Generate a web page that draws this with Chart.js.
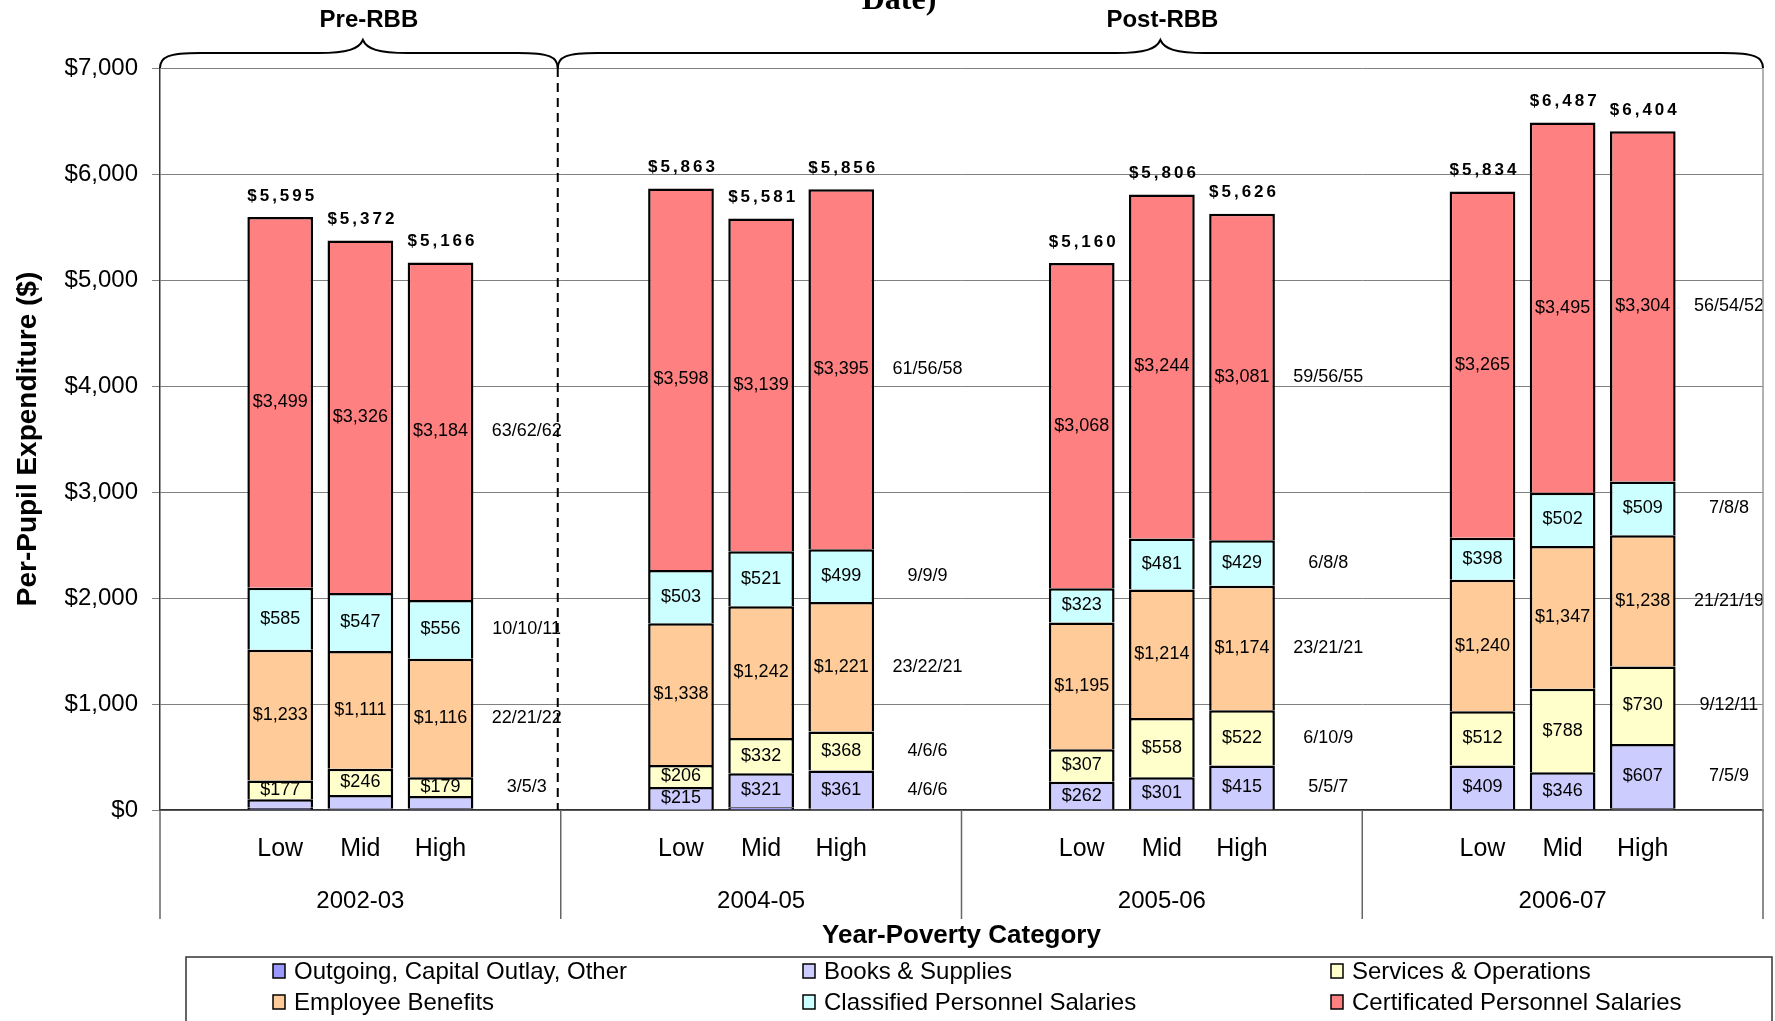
<!DOCTYPE html>
<html>
<head>
<meta charset="utf-8">
<script src="https://cdn.jsdelivr.net/npm/chart.js@4.4.0/dist/chart.umd.min.js"></script>
<style>
  html, body { margin: 0; padding: 0; background: #fff; }
</style>
</head>
<body>
<canvas id="chart" width="1775" height="1021"></canvas>
<script>
const years = ['2002-03', '2004-05', '2005-06', '2006-07'];
const levels = ['Low', 'Mid', 'High'];

// per-pupil $, one row per year: Low / Mid / High
const outgoing = [[21, 17, 16], [3, 26, 12], [5, 8, 5], [10, 9, 16]];
const books = [[80, 125, 115], [215, 321, 361], [262, 301, 415], [409, 346, 607]];
const services = [[177, 246, 179], [206, 332, 368], [307, 558, 522], [512, 788, 730]];
const benefits = [[1233, 1111, 1116], [1338, 1242, 1221], [1195, 1214, 1174], [1240, 1347, 1238]];
const classified = [[585, 547, 556], [503, 521, 499], [323, 481, 429], [398, 502, 509]];
const certificated = [[3499, 3326, 3184], [3598, 3139, 3395], [3068, 3244, 3081], [3265, 3495, 3304]];

// percent shares (Low/Mid/High) written right of each year
const pctCertificated = ['63/62/62', '61/56/58', '59/56/55', '56/54/52'];
const pctClassified = ['10/10/11', '9/9/9', '6/8/8', '7/8/8'];
const pctBenefits = ['22/21/22', '23/22/21', '23/21/21', '21/21/19'];
const pctServices = ['3/5/3', '4/6/6', '6/10/9', '9/12/11'];
const pctBooks = ['', '4/6/6', '5/5/7', '7/5/9'];

const FONT = '"Liberation Sans", Arial, sans-serif';

// each year gets 5 slots: blank, Low, Mid, High, blank (percent column)
const labels = [];
years.forEach(() => labels.push('', ...levels, ''));

function spread(rows) {
  const out = [];
  rows.forEach(r => out.push(null, ...r, null));
  return out;
}

function makeSet(label, rows, color, pct, showValues) {
  return {
    label: label,
    data: spread(rows),
    backgroundColor: color,
    borderColor: '#000',
    borderWidth: 2.5,
    barPercentage: 0.82,
    categoryPercentage: 1,
    pct: pct,
    showValues: showValues,
  };
}

const datasets = [
  makeSet('Outgoing, Capital Outlay, Other', outgoing, '#9999FF', null, [false, false, false, false]),
  makeSet('Books & Supplies', books, '#CCCCFF', pctBooks, [false, true, true, true]),
  makeSet('Services & Operations', services, '#FFFFCC', pctServices, [true, true, true, true]),
  makeSet('Employee Benefits', benefits, '#FFCC99', pctBenefits, [true, true, true, true]),
  makeSet('Classified Personnel Salaries', classified, '#CCFFFF', pctClassified, [true, true, true, true]),
  makeSet('Certificated Personnel Salaries', certificated, '#FF8080', pctCertificated, [true, true, true, true]),
];

const money = v => '$' + v.toLocaleString('en-US');

// labels inside bars, totals on top, percent column
const barText = {
  id: 'barText',
  afterDatasetsDraw(chart) {
    const ctx = chart.ctx;
    const xs = chart.scales.x;
    ctx.save();
    ctx.fillStyle = '#000';
    ctx.textAlign = 'center';
    ctx.textBaseline = 'middle';

    chart.data.datasets.forEach((ds, di) => {
      const meta = chart.getDatasetMeta(di);
      ctx.font = '18px ' + FONT;
      meta.data.forEach((bar, i) => {
        const v = ds.data[i];
        if (v == null || !ds.showValues[Math.floor(i / 5)]) return;
        ctx.fillText(money(v), bar.x, (bar.y + bar.base) / 2);
      });
      if (!ds.pct) return;
      ds.pct.forEach((txt, g) => {
        if (!txt) return;
        const high = meta.data[g * 5 + 3];
        ctx.fillText(txt, xs.getPixelForValue(g * 5 + 4) + 6, (high.y + high.base) / 2);
      });
    });

    // totals
    const topMeta = chart.getDatasetMeta(chart.data.datasets.length - 1);
    ctx.font = 'bold 17px ' + FONT;
    ctx.letterSpacing = '3px';
    topMeta.data.forEach((bar, i) => {
      if (chart.data.datasets[0].data[i] == null) return;
      let sum = 0;
      chart.data.datasets.forEach(ds => { sum += ds.data[i]; });
      ctx.fillText('$' + sum.toLocaleString('en-US'), bar.x + 2, bar.y - 21);
    });
    ctx.restore();
  }
};

function brace(ctx, x0, x1, xm, yEnd, yFlat, yPeak) {
  ctx.beginPath();
  ctx.moveTo(x0, yEnd);
  ctx.bezierCurveTo(x0, yFlat + 4, x0 + 8, yFlat, x0 + 40, yFlat);
  ctx.lineTo(xm - 45, yFlat);
  ctx.bezierCurveTo(xm - 15, yFlat, xm - 4, yFlat - 4, xm, yPeak);
  ctx.bezierCurveTo(xm + 4, yFlat - 4, xm + 15, yFlat, xm + 45, yFlat);
  ctx.lineTo(x1 - 40, yFlat);
  ctx.bezierCurveTo(x1 - 8, yFlat, x1, yFlat + 4, x1, yEnd);
  ctx.stroke();
}

const decor = {
  id: 'decor',
  afterDraw(chart) {
    const ctx = chart.ctx;
    const area = chart.chartArea;
    const xs = chart.scales.x;
    ctx.save();

    // group boundaries
    const bounds = [area.left];
    for (let g = 0; g < years.length - 1; g++) {
      bounds.push((xs.getPixelForValue(g * 5 + 4) + xs.getPixelForValue(g * 5 + 5)) / 2);
    }
    bounds.push(area.right);

    ctx.strokeStyle = '#666';
    ctx.lineWidth = 1.5;
    bounds.forEach(b => {
      ctx.beginPath();
      ctx.moveTo(b, area.bottom);
      ctx.lineTo(b, area.bottom + 109);
      ctx.stroke();
    });
    // right frame line
    ctx.strokeStyle = '#999';
    ctx.beginPath();
    ctx.moveTo(area.right, area.top);
    ctx.lineTo(area.right, area.bottom);
    ctx.stroke();

    // year labels
    ctx.fillStyle = '#000';
    ctx.textAlign = 'center';
    ctx.textBaseline = 'middle';
    ctx.font = '24px ' + FONT;
    years.forEach((y, g) => {
      ctx.fillText(y, xs.getPixelForValue(g * 5 + 2), area.bottom + 91);
    });

    // dashed Pre/Post divider
    const split = bounds[1] - 3;
    ctx.strokeStyle = '#000';
    ctx.lineWidth = 2;
    ctx.setLineDash([9, 6]);
    ctx.beginPath();
    ctx.moveTo(split, area.top);
    ctx.lineTo(split, area.bottom);
    ctx.stroke();
    ctx.setLineDash([]);

    // braces
    const yEnd = area.top, yFlat = area.top - 15, yPeak = area.top - 28;
    brace(ctx, area.left, split, (area.left + split) / 2 + 4, yEnd, yFlat, yPeak);
    brace(ctx, split, area.right, (split + area.right) / 2, yEnd, yFlat, yPeak);
    ctx.font = 'bold 24px ' + FONT;
    ctx.fillText('Pre-RBB', (area.left + split) / 2 + 10, 20);
    ctx.fillText('Post-RBB', (split + area.right) / 2 + 2, 20);

    // clipped title remnant
    ctx.font = 'bold 32px "Liberation Serif", serif';
    ctx.textBaseline = 'alphabetic';
    ctx.fillText('Date)', 899, 9);

    // legend box
    ctx.strokeStyle = '#333';
    ctx.lineWidth = 1.5;
    ctx.strokeRect(186, 957, 1586, 80);
    const cols = [273, 803, 1331];
    const rows = [971, 1002];
    ctx.font = '24px ' + FONT;
    ctx.textAlign = 'left';
    ctx.textBaseline = 'middle';
    chart.data.datasets.forEach((ds, i) => {
      const x = cols[i % 3], y = rows[Math.floor(i / 3)];
      ctx.fillStyle = ds.backgroundColor;
      ctx.fillRect(x, y - 7, 12, 14);
      ctx.strokeStyle = '#000';
      ctx.lineWidth = 1.5;
      ctx.strokeRect(x, y - 7, 12, 14);
      ctx.fillStyle = '#000';
      ctx.fillText(ds.label, x + 21, y + 1);
    });
    ctx.restore();
  }
};

new Chart(document.getElementById('chart').getContext('2d'), {
  type: 'bar',
  data: { labels: labels, datasets: datasets },
  options: {
    responsive: false,
    animation: false,
    layout: { padding: { left: 0, right: 12, top: 68, bottom: 0 } },
    plugins: { legend: { display: false }, tooltip: { enabled: false } },
    scales: {
      x: {
        stacked: true,
        grid: { display: false },
        border: { color: '#333', width: 1.5 },
        ticks: { color: '#000', font: { size: 25, family: FONT }, padding: 16, autoSkip: false, maxRotation: 0 },
        title: {
          display: true, text: 'Year-Poverty Category', color: '#000',
          font: { size: 26, weight: 'bold', family: FONT }, padding: { top: 0, bottom: 70 },
        },
        afterFit(s) { s.height = 211; },
      },
      y: {
        stacked: true,
        min: 0,
        max: 7000,
        ticks: {
          stepSize: 1000, color: '#000', font: { size: 24, family: FONT }, padding: 14,
          callback: v => money(v),
        },
        grid: { color: '#808080', lineWidth: 1, tickLength: 8 },
        border: { color: '#333', width: 1.5 },
        title: {
          display: true, text: 'Per-Pupil Expenditure ($)', color: '#000',
          font: { size: 28, weight: 'bold', family: FONT }, padding: { top: 11, bottom: 0 },
        },
        afterFit(s) { s.width = 160; },
      },
    },
  },
  plugins: [barText, decor],
});
</script>
</body>
</html>
